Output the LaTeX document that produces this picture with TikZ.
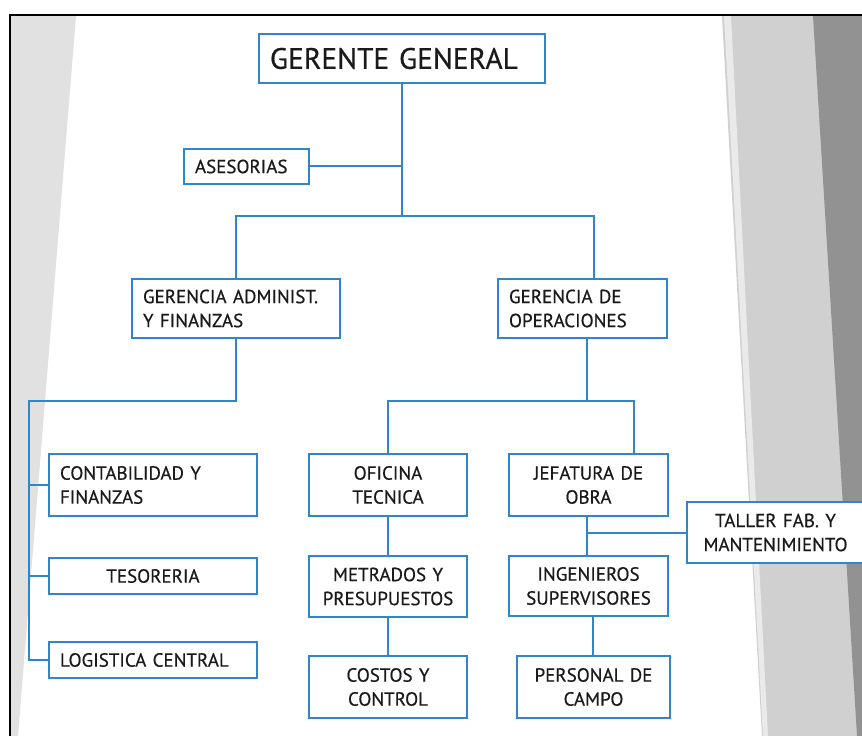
\documentclass[tikz,border=0pt]{standalone}
\usepackage{fontspec}
\setmainfont{PT Sans}[FakeBold=0.5]
\definecolor{lnblue}{HTML}{2F87CA}
\definecolor{txt}{HTML}{1A1A1A}
\definecolor{lgray}{HTML}{E1E1E1}
\definecolor{mgray}{HTML}{D0D0D0}
\definecolor{dgray}{HTML}{929292}
\tikzset{
  orgbox/.style={draw=lnblue, line width=2pt, fill=white, text=txt, inner xsep=11pt, inner ysep=2pt,
    font=\fontsize{19}{24}\selectfont, anchor=center},
  lbox/.style 2 args={orgbox, text width=#1pt-22pt, minimum height=#2pt, align=left},
  cbox/.style 2 args={orgbox, text width=#1pt-22pt, minimum height=#2pt, align=center},
  conn/.style={draw=lnblue, line width=2pt}
}
\begin{document}
\begin{tikzpicture}[x=1pt,y=-1pt]
\useasboundingbox (0,0) rectangle (862,736);
% background
\fill[white] (0,0) rectangle (862,736);
\fill[lgray] (11,16) -- (76,16) -- (18,736) -- (11,736) -- cycle;
\fill[mgray] (722,16) -- (862,16) -- (862,736) -- (762,736) -- cycle;
\fill[white!55!mgray] (724,16) -- (731,16) -- (768,736) -- (763,736) -- cycle;
\fill[dgray] (813,16) -- (862,16) -- (862,736) -- (857,736) -- cycle;
\draw[black, line width=2.2pt] (10,737) -- (10,15) -- (863,15);
% nodes
\node[lbox={286}{49}, font=\fontsize{29.5}{32}\selectfont] (gg) at (402,58.5) {GERENTE GENERAL};
\node[lbox={125}{35}] (ase) at (246.5,166.5) {ASESORIAS};
\node[lbox={208}{59}] (gadm) at (236,308.5) {GERENCIA ADMINIST.\\Y FINANZAS};
\node[lbox={169}{59}] (gop) at (582.5,308.5) {GERENCIA DE\\OPERACIONES};
\node[lbox={208}{62}] (cont) at (153,485) {CONTABILIDAD Y\\FINANZAS};
\node[cbox={208}{36}] (tes) at (153,576) {TESORERIA};
\node[lbox={208}{36}] (log) at (153,660) {LOGISTICA CENTRAL};
\node[cbox={158}{62}] (ofi) at (388,485) {OFICINA\\TECNICA};
\node[cbox={159}{62}] (jef) at (588.5,485) {JEFATURA DE\\OBRA};
\node[cbox={158}{61}] (met) at (388,586.5) {METRADOS Y\\PRESUPUESTOS};
\node[cbox={159}{60}] (ing) at (588.5,586) {INGENIEROS\\SUPERVISORES};
\node[cbox={158}{62}] (cos) at (388,687) {COSTOS Y\\CONTROL};
\node[cbox={153}{62}] (per) at (593.5,687) {PERSONAL DE\\CAMPO};
\node[cbox={177}{61}] (tal) at (775.5,532.5) {TALLER FAB. Y\\MANTENIMIENTO};
% connectors
\coordinate (j1) at (402,216);
\coordinate (gopT) at (594,279);
\coordinate (aseR) at (309,166);
\path[conn] (gg.south) -- (j1);
\path[conn] (aseR) -- (aseR -| j1);
\path[conn] (gadm.north) -- (gadm.north |- j1) -- (gopT |- j1) -- (gopT);
\coordinate (j2) at (236,401);
\coordinate (lv) at (29,401);
\path[conn] (gadm.south) -- (j2) -- (lv) -- (lv |- log.west) -- (log.west);
\path[conn] (lv |- cont.west) -- (cont.west);
\path[conn] (lv |- tes.west) -- (tes.west);
\coordinate (opB) at (587,338);
\coordinate (jefT) at (634,454);
\path[conn] (opB) -- (opB |- j2);
\path[conn] (ofi.north) -- (ofi.north |- j2) -- (jefT |- j2) -- (jefT);
\path[conn] (ofi.south) -- (met.north);
\path[conn] (met.south) -- (cos.north);
\coordinate (jefB) at (587,516);
\coordinate (talL) at (687,533);
\path[conn] (jefB) -- (jefB |- ing.north);
\path[conn] (jefB |- talL) -- (talL);
\coordinate (ingB) at (593,616);
\path[conn] (ingB) -- (ingB |- per.north);
\end{tikzpicture}
\end{document}
